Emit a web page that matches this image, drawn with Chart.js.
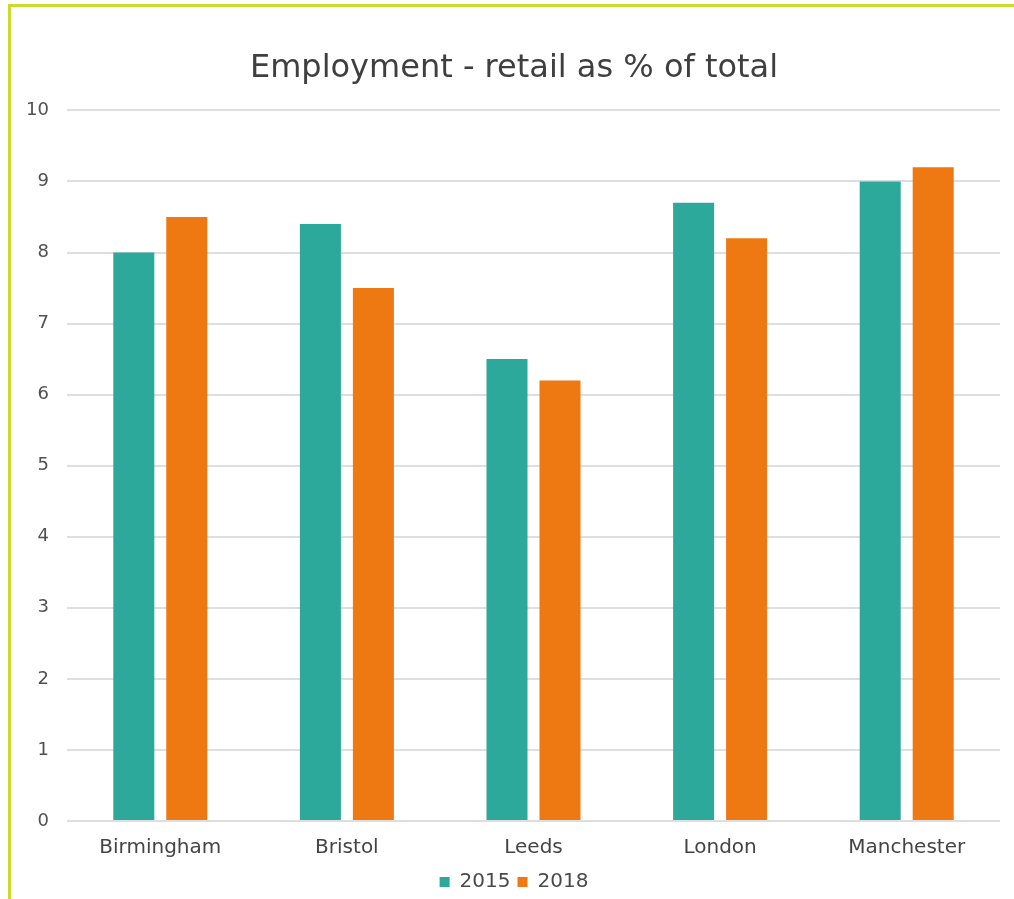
<!DOCTYPE html>
<html>
<head>
<meta charset="utf-8">
<script src="https://cdn.jsdelivr.net/npm/chart.js@4"></script>
<style>
  html, body { margin: 0; padding: 0; background: #fff; overflow: hidden; }
  #frame {
    position: absolute;
    left: 8px;
    top: 4px;
    width: 1006px;
    height: 898px;
    border-left: 3px solid #c9dc2e;
    border-top: 3px solid #c9dc2e;
  }
  #wrap { position: relative; width: 1003px; height: 895px; }
</style>
</head>
<body>
<div id="frame">
  <div id="wrap"><canvas id="myChart"></canvas></div>
</div>
<script>
const cities = ["Birmingham", "Bristol", "Leeds", "London", "Manchester"];
const share2015 = [8.0, 8.4, 6.5, 8.7, 9.0];
const share2018 = [8.5, 7.5, 6.2, 8.2, 9.2];
const yTicks = [0, 1, 2, 3, 4, 5, 6, 7, 8, 9, 10];

const ctx = document.getElementById("myChart");

const fontFamily = "'DejaVu Sans', sans-serif";

let data = {
  labels: cities,
  datasets: [
    {
      label: "2015",
      data: share2015,
      backgroundColor: "#2ca99a",
      borderWidth: 0,
      categoryPercentage: 0.568,
      barPercentage: 0.774
    },
    {
      label: "2018",
      data: share2018,
      backgroundColor: "#ee7811",
      borderWidth: 0,
      categoryPercentage: 0.568,
      barPercentage: 0.774
    }
  ]
};

let config = {
  type: "bar",
  data: data,
  options: {
    responsive: true,
    maintainAspectRatio: false,
    animation: false,
    layout: {
      padding: { top: 20, left: 17, right: 14, bottom: 0 }
    },
    plugins: {
      title: {
        display: true,
        text: "Employment - retail as % of total",
        color: "#3f3f3f",
        font: { family: fontFamily, size: 32, weight: "normal" },
        padding: { top: 22, bottom: 23 }
      },
      legend: {
        position: "bottom",
        labels: {
          color: "#4a4a4a",
          font: { family: fontFamily, size: 20 },
          boxWidth: 10,
          boxHeight: 10,
          padding: 7
        }
      },
      tooltip: { enabled: false }
    },
    scales: {
      y: {
        min: 0,
        max: 10,
        afterBuildTicks: (axis) => {
          axis.ticks = yTicks.map(v => ({ value: v }));
        },
        // keep the value axis narrow so the plot starts right after the labels
        afterFit: (axis) => { axis.width = 39; },
        border: { display: false },
        grid: { color: "#dedede", lineWidth: 2, drawTicks: false },
        ticks: {
          color: "#505050",
          font: { family: fontFamily, size: 18 },
          padding: 18
        }
      },
      x: {
        afterFit: (axis) => { axis.height = 44; },
        border: { display: false },
        grid: { display: false, drawTicks: false },
        ticks: {
          color: "#444444",
          font: { family: fontFamily, size: 20 },
          padding: 15
        }
      }
    }
  }
};

let myChart = new Chart(ctx, config);
</script>
</body>
</html>
